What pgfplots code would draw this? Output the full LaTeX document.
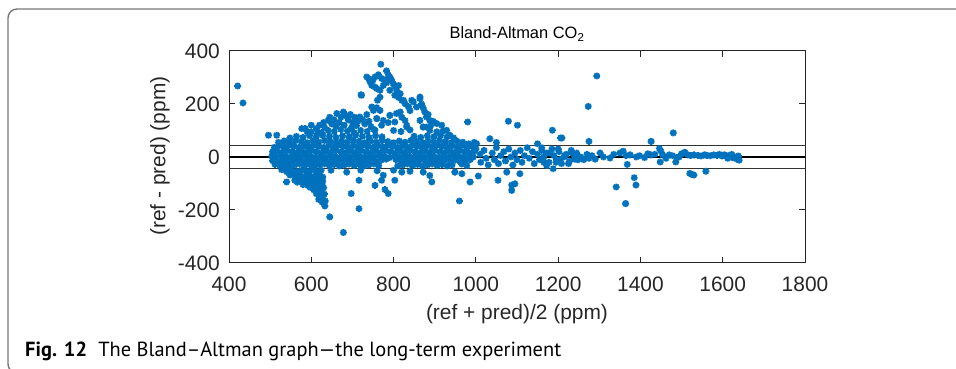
\documentclass[border=0pt]{standalone}
\usepackage{fontspec}
\setmainfont{Liberation Sans}
\newfontfamily\capfont{PT Sans}
\usepackage{pgfplots}
\pgfplotsset{compat=1.18}

\definecolor{mblue}{RGB}{0,114,189}
\definecolor{axgray}{RGB}{38,38,38}
\definecolor{framegray}{RGB}{120,120,120}

% MATLAB-style '*' marker: a plus and a cross on top of each other
\pgfdeclareplotmark{mstar}{%
  \pgfpathmoveto{\pgfqpoint{-\pgfplotmarksize}{0pt}}%
  \pgfpathlineto{\pgfqpoint{\pgfplotmarksize}{0pt}}%
  \pgfpathmoveto{\pgfqpoint{0pt}{-\pgfplotmarksize}}%
  \pgfpathlineto{\pgfqpoint{0pt}{\pgfplotmarksize}}%
  \pgfpathmoveto{\pgfqpoint{-.7071\pgfplotmarksize}{-.7071\pgfplotmarksize}}%
  \pgfpathlineto{\pgfqpoint{.7071\pgfplotmarksize}{.7071\pgfplotmarksize}}%
  \pgfpathmoveto{\pgfqpoint{-.7071\pgfplotmarksize}{.7071\pgfplotmarksize}}%
  \pgfpathlineto{\pgfqpoint{.7071\pgfplotmarksize}{-.7071\pgfplotmarksize}}%
  \pgfusepathqstroke}

\begin{document}
\begin{tikzpicture}
\path[use as bounding box] (0,0) rectangle (956bp,369bp);

% panel frame with a rounded corner
\draw[framegray, line width=1.4bp, rounded corners=9bp]
  (980bp,-4bp) -- (8bp,-4bp) -- (8bp,360bp) -- (980bp,360bp);

\begin{axis}[
  at={(229bp,106bp)}, anchor=south west,
  width=576bp, height=212bp, scale only axis,
  xmin=400, xmax=1800, ymin=-400, ymax=400,
  xtick={400,600,800,1000,1200,1400,1600,1800},
  ytick={-400,-200,0,200,400},
  tick align=inside, major tick length=6bp,
  axis line style={axgray, line width=1bp},
  every tick/.style={axgray, line width=1bp},
  /pgf/number format/assume math mode=true,
  /pgf/number format/1000 sep={},
  ticklabel style={font=\fontsize{21}{21}\selectfont, text=axgray, inner sep=0pt},
  xticklabel style={anchor=base, yshift=-29bp},
  yticklabel style={anchor=east, xshift=-9bp},
  clip=false,
]
\addplot[only marks, mark=mstar, mark size=3.4bp, mblue, line width=1.8bp] coordinates {
 (421,268)(434,204)(496,82)(516,82)
 % band, upper row
 (510,36)(522,42)(534,38)(546,44)(558,40)(570,36)(582,42)(594,38)(606,44)(618,40)(630,36)(642,42)(654,38)(666,44)(678,40)(690,36)(702,42)(714,38)(726,44)(738,40)(750,36)(762,42)(774,38)(786,44)(798,40)(810,36)(822,42)(834,38)(846,44)(858,40)(870,36)(882,42)(894,38)(906,44)(918,40)(930,36)(942,42)(954,38)(966,44)(978,36)(990,40)
 % band, second row
 (506,20)(516,22)(528,18)(540,24)(552,20)(564,16)(576,22)(588,18)(600,24)(612,20)(624,16)(636,22)(648,18)(660,24)(672,20)(684,16)(696,22)(708,18)(720,24)(732,20)(744,16)(756,22)(768,18)(780,24)(792,20)(804,16)(816,22)(828,18)(840,24)(852,20)(864,16)(876,22)(888,18)(900,24)(912,20)(924,16)(936,22)(948,18)(960,24)(972,20)(984,16)(996,22)
 % band, middle row
 (504,3)(514,0)(526,5)(538,2)(550,-1)(562,4)(574,1)(586,6)(598,2)(610,-1)(622,4)(634,0)(646,5)(658,2)(670,-2)(682,4)(694,0)(706,5)(718,2)(730,-1)(742,4)(754,0)(766,5)(778,2)(790,-2)(802,4)(814,0)(826,5)(838,2)(850,-1)(862,4)(874,0)(886,5)(898,2)(910,-2)(922,4)(934,0)(946,5)(958,2)(970,-1)(982,4)(994,0)
 % band, fourth row
 (506,-14)(518,-16)(530,-12)(542,-18)(554,-14)(566,-10)(578,-16)(590,-12)(602,-18)(614,-14)(626,-10)(638,-16)(650,-12)(662,-18)(674,-14)(686,-10)(698,-16)(710,-12)(722,-18)(734,-14)(746,-10)(758,-16)(770,-12)(782,-8)(806,-10)(818,-16)(830,-12)(842,-18)(854,-14)(866,-10)(878,-16)(890,-12)(902,-18)(914,-14)(926,-10)(938,-16)(950,-12)(962,-18)(974,-14)(986,-10)
 % band, lower row
 (512,-28)(524,-32)(536,-28)(548,-34)(560,-30)(572,-26)(584,-32)(596,-28)(608,-34)(620,-30)(632,-26)(644,-32)(656,-28)(668,-34)(680,-30)(692,-26)(704,-32)(716,-28)(728,-34)(740,-30)(752,-26)(764,-32)(810,-34)(822,-30)(834,-26)(846,-32)(858,-28)(870,-34)(882,-30)(894,-26)(906,-32)(918,-28)(930,-34)(942,-30)(966,-26)(978,-32)
 % just above the band
 (520,55)(534,60)(548,56)(562,62)(576,58)(590,54)(604,60)(618,56)(632,62)(646,58)(660,54)(674,60)(688,56)(702,62)(716,58)(730,54)(744,60)(758,56)(772,62)(786,58)(800,54)(814,60)(828,56)(842,62)(856,58)(870,54)(884,60)(898,56)(912,62)(926,58)(940,54)(954,60)(968,56)(982,50)(996,55)
 (548,72)(564,78)(580,74)(596,80)(612,76)(628,82)(644,78)(660,74)(676,80)(692,76)(708,82)(724,78)(740,74)(756,80)(772,76)(850,78)(866,74)(882,80)(898,76)(914,82)(930,76)(946,72)
 (585,107)(600,95)(625,92)(641,100)(656,96)(672,104)(688,98)(704,92)(720,100)(736,96)(752,104)(800,100)(818,96)(840,102)(872,113)(888,100)(905,95)(920,98)(937,82)
 % upper scatter
 (577,107)(613,107)(641,138)(650,125)(662,164)(678,170)(672,150)(690,140)(700,130)(718,151)(713,135)(730,125)(745,115)(755,101)(759,145)(775,138)(771,120)(791,157)(807,164)(787,130)(803,132)(816,170)(820,150)(828,138)(832,113)(832,119)(844,214)(848,208)(856,189)(864,220)(864,226)(868,200)(872,185)(876,170)(880,151)(884,160)(888,138)(896,135)(905,126)(917,120)(929,101)(864,138)(872,113)(880,113)(890,118)
 (620,120)(632,112)(645,150)(655,140)(668,130)(680,120)(685,155)(695,160)(705,150)(710,118)(725,140)(735,160)(740,135)(698,110)(660,115)(630,130)(600,120)(590,95)(615,88)
 % peak cluster
 (769,350)(783,325)(735,302)(743,283)(755,302)(763,310)(771,296)(779,290)(791,302)(799,277)(803,265)(812,270)(791,252)(803,233)(816,239)(820,214)(824,214)(828,201)(755,264)(747,270)(767,252)(721,235)(761,214)(759,186)(767,176)(759,258)(767,226)(747,189)(751,176)(722,233)(759,145)(783,280)(795,290)(808,250)(775,270)(740,295)(750,290)(787,310)(812,225)(836,190)(840,175)
 % lower lobe
 (528,-48)(540,-55)(552,-50)(564,-55)(576,-50)(588,-55)(600,-50)(612,-55)(624,-50)(648,-50)(686,-57)(720,-50)(760,-52)(800,-50)(840,-54)(872,-57)(949,-57)(966,-63)
 (536,-42)(546,-60)(558,-62)(570,-80)(582,-78)(594,-80)(606,-82)(618,-84)(592,-100)(604,-98)(614,-100)(626,-104)(598,-115)(610,-118)(620,-122)(612,-138)(622,-140)(618,-160)(626,-170)(580,-96)(566,-95)(540,-94)
 (548,-68)(560,-72)(572,-68)(584,-74)(596,-70)(608,-74)(620,-70)(628,-76)
 (560,-88)(572,-90)(584,-88)(596,-92)(608,-90)(618,-96)(628,-92)
 (580,-104)(592,-108)(602,-106)(612,-112)(622,-110)(630,-116)
 (606,-124)(616,-128)(624,-134)(632,-140)
 (622,-150)(628,-158)(634,-166)
 (633,-185)(645,-226)(678,-285)
 % below band, scattered
 (697,-138)(716,-195)(716,-88)(755,-107)(775,-69)(771,-88)(779,-123)(787,-138)(803,-88)(820,-57)(888,-70)(893,-94)
 (960,-166)(986,-94)(1006,-72)(1054,-88)(1075,-57)(1087,-126)(1087,-106)(1095,-101)(1107,-63)
 (1341,-113)(1364,-176)(1385,-78)(1389,-106)(1368,-28)(1520,-62)(1525,-66)(1530,-68)(1559,-54)(1486,-19)
 % above band, right part
 (980,132)(1079,135)(1101,120)(1034,69)(1002,50)(1186,101)(1206,72)(1209,72)(1273,191)(1294,306)(1275,59)(1426,59)(1480,91)(1050,55)(1150,50)
 % band beyond 1000
 (1000,30)(1010,10)(1012,-20)(1020,25)(1025,-5)(1030,-30)(1040,15)(1045,-10)(1050,35)(1055,-25)(1060,5)(1068,20)(1072,-15)(1080,30)(1085,0)(1090,-30)(1095,15)(1100,-10)(1108,25)(1112,-20)(1118,5)(1125,35)(1130,-5)(1138,20)(1142,-25)(1150,10)(1155,-10)(1160,25)(1165,0)(1172,15)(1178,-20)(1185,30)(1190,5)(1196,-10)(1202,20)(1208,-25)(1215,0)(1220,10)(1228,-15)(1232,25)(1240,5)(1248,-10)
 (1160,35)(1165,-20)(1172,-32)(1180,15)(1188,-44)(1195,-20)(1200,30)(1205,-10)(1215,5)(1225,-25)(1235,15)(1240,-8)
 (1245,15)(1255,0)(1262,-10)(1270,10)(1275,-5)(1282,5)(1290,-8)(1302,15)(1310,0)(1326,-4)(1335,10)(1350,15)(1358,22)(1365,5)(1375,8)(1390,0)(1398,5)(1410,-2)(1418,12)(1425,8)(1435,10)(1446,32)(1450,22)(1454,8)(1448,-19)(1462,-5)(1470,8)(1478,5)(1488,-2)(1494,0)(1500,12)(1508,18)(1515,8)(1522,6)(1530,8)(1540,6)(1548,4)(1556,8)(1562,6)(1570,5)(1578,8)(1586,6)(1592,10)(1598,4)(1604,8)(1610,2)(1616,6)(1622,10)(1628,0)(1634,-8)(1638,4)(1640,-12)(1612,-5)(1625,-3)
};
% mean difference and limits of agreement
\addplot[black!80, line width=1.2bp] coordinates {(400,42)(1800,42)};
\addplot[black, line width=1.2bp] coordinates {(400,0)(1800,0)};
\addplot[black!80, line width=1.2bp] coordinates {(400,-42)(1800,-42)};
\end{axis}

% title and axis labels
\node[anchor=base, font=\fontsize{16.5}{16.5}\selectfont] at (517bp,330bp) {Bland-Altman CO\textsubscript{2}};
\node[anchor=base, font=\fontsize{21}{21}\selectfont, text=axgray] at (517bp,49bp) {(ref + pred)/2 (ppm)};
\node[rotate=90, font=\fontsize{21}{21}\selectfont, text=axgray] at (160bp,213bp) {(ref - pred) (ppm)};

% figure caption
\node[anchor=base west, inner sep=0pt, font=\capfont\fontsize{20.5}{20.5}\selectfont] at (25bp,13bp)
  {\textbf{Fig. 12}\hspace{0.55em}The Bland–Altman graph—the long-term experiment};
\end{tikzpicture}
\end{document}
